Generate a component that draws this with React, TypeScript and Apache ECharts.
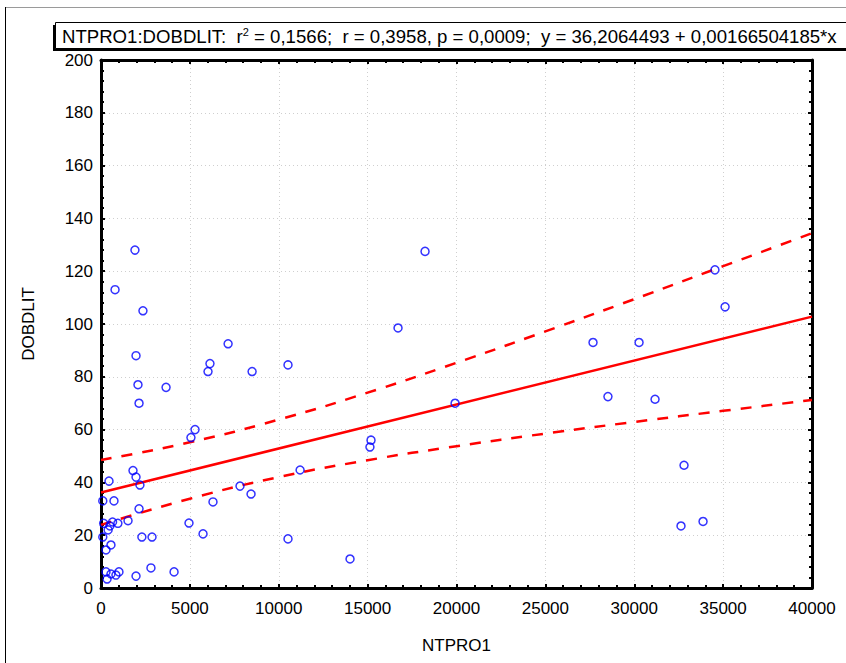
import React, { useEffect, useRef } from "react";
import * as echarts from "echarts";

// Scatter points
const ntpro1 = [
  1910, 790, 2360, 1970, 2080, 2140, 3660, 7150, 6130, 6020, 8500, 10520, 16710, 18230,
  5290, 5060, 1800, 1970, 2190, 450, 100, 730, 2140, 1520, 150, 500, 650, 950, 400, 100,
  560, 280, 2300, 2870, 4950, 5740, 6300, 7820, 8440, 11200, 10520, 14010, 15130, 15190,
  19920, 27680, 30270, 28520, 31170, 32800, 32630, 33870, 34540, 35110, 280, 560, 340,
  840, 1010, 1970, 2810, 4110,
];
const dobdlit = [
  128, 113, 105, 88, 77, 70, 76, 92.5, 85, 82, 82, 84.5, 98.5, 127.5,
  60, 57, 44.5, 42, 39, 40.5, 33, 33, 30, 25.5, 24.5, 23.5, 25, 24.5, 22, 19.3,
  16.3, 14.4, 19.3, 19.3, 24.6, 20.5, 32.6, 38.6, 35.6, 44.7, 18.6, 11, 53.4, 56,
  70, 93, 93, 72.5, 71.5, 46.5, 23.5, 25.2, 120.5, 106.5, 6.1, 5.3, 3.4,
  4.9, 6.1, 4.5, 7.6, 6.1,
];

// Regression line endpoints: y = 36.2064493 + 0.00166504185*x
const fitX = [0, 40000];
const fitY = [36.2, 102.8];

// Confidence band values read at x ticks
const bandX = [0, 5000, 10000, 15000, 20000, 25000, 30000, 35000, 40000];
const bandUpper = [48.5, 55.2, 63.8, 74.0, 85.3, 97.2, 109.4, 121.9, 134.4];
const bandLower = [23.9, 33.8, 42.0, 48.4, 53.7, 58.5, 62.9, 67.1, 71.2];

const xTitle = "NTPRO1";
const yTitle = "DOBDLIT";
const headerA = "NTPRO1:DOBDLIT:  r";
const headerSup = "2";
const headerB = " = 0,1566;  r = 0,3958, p = 0,0009;  y = 36,2064493 + 0,00166504185*x";

const FONT = "'Liberation Sans', Arial, sans-serif";

export default function App() {
  const ref = useRef<HTMLDivElement>(null);
  useEffect(() => {
    if (!ref.current) return;
    const chart = echarts.init(ref.current, undefined, { renderer: "svg" });
    const pts = ntpro1.map((x, i) => [x, dobdlit[i]]);
    const fit = fitX.map((x, i) => [x, fitY[i]]);
    const up = bandX.map((x, i) => [x, bandUpper[i]]);
    const lo = bandX.map((x, i) => [x, bandLower[i]]);
    const axisLabel = { color: "#000", fontFamily: FONT, fontSize: 17 };
    const tick = { show: true, inside: true, length: 4, lineStyle: { color: "#000", width: 2 } };
    const minor = { show: true, splitNumber: 5, length: 3, lineStyle: { color: "#000", width: 2 } };
    const line = { show: true, onZero: false, lineStyle: { color: "#000", width: 3 } };
    chart.setOption({
      animation: false,
      backgroundColor: "#fff",
      grid: { left: 101, right: 34, top: 60, bottom: 75, show: false },
      xAxis: [
        {
          type: "value",
          min: 0,
          max: 40000,
          interval: 5000,
          name: xTitle,
          nameLocation: "middle",
          nameGap: 49,
          nameTextStyle: { color: "#000", fontFamily: FONT, fontSize: 17 },
          axisLine: line,
          axisTick: tick,
          minorTick: minor,
          axisLabel: { ...axisLabel, margin: 12, formatter: (v: number) => String(v) },
          splitLine: { show: true, lineStyle: { color: "#cfcfcf", type: [1, 3], width: 1 } },
        },
        {
          type: "value",
          position: "top",
          min: 0,
          max: 40000,
          interval: 5000,
          axisLine: line,
          axisTick: tick,
          minorTick: minor,
          axisLabel: { show: false },
          splitLine: { show: false },
        },
      ],
      yAxis: [
        {
          type: "value",
          min: 0,
          max: 200,
          interval: 20,
          name: yTitle,
          nameLocation: "middle",
          nameGap: 64,
          nameRotate: 90,
          nameTextStyle: { color: "#000", fontFamily: FONT, fontSize: 17 },
          axisLine: line,
          axisTick: tick,
          minorTick: minor,
          axisLabel: { ...axisLabel, margin: 8 },
          splitLine: { show: true, lineStyle: { color: "#cfcfcf", type: [1, 3], width: 1 } },
        },
        {
          type: "value",
          position: "right",
          min: 0,
          max: 200,
          interval: 20,
          axisLine: line,
          axisTick: tick,
          minorTick: minor,
          axisLabel: { show: false },
          splitLine: { show: false },
        },
      ],
      series: [
        {
          type: "line",
          data: up,
          smooth: true,
          symbol: "none",
          lineStyle: { color: "#ff0000", width: 2.5, type: [11, 10] },
          z: 3,
        },
        {
          type: "line",
          data: lo,
          smooth: true,
          symbol: "none",
          lineStyle: { color: "#ff0000", width: 2.5, type: [11, 10] },
          z: 3,
        },
        {
          type: "line",
          data: fit,
          symbol: "none",
          lineStyle: { color: "#ff0000", width: 2.5 },
          z: 3,
        },
        {
          type: "scatter",
          data: pts,
          symbol: "circle",
          symbolSize: 8,
          itemStyle: { color: "rgba(0,0,0,0)", borderColor: "#0000ff", borderWidth: 1.5 },
          z: 4,
        },
      ],
      graphic: [
        { type: "line", shape: { x1: 5, y1: 7.5, x2: 846, y2: 7.5 }, style: { stroke: "#9a9a9a", lineWidth: 1 } },
        { type: "line", shape: { x1: 5.5, y1: 7, x2: 5.5, y2: 663 }, style: { stroke: "#000", lineWidth: 1 } },
        { type: "rect", shape: { x: 53, y: 25, width: 800, height: 26 }, style: { fill: "#000" } },
        { type: "rect", shape: { x: 55.5, y: 22.5, width: 800, height: 26 }, style: { fill: "#fff", stroke: "#000", lineWidth: 1 } },
        {
          type: "text",
          x: 62,
          y: 36,
          style: {
            text: `{a|${headerA}}{s|${headerSup}}{a|${headerB}}`,
            verticalAlign: "middle",
            rich: {
              a: { fontFamily: FONT, fontSize: 18.6, fill: "#000" },
              s: { fontFamily: FONT, fontSize: 11, fill: "#000", padding: [0, 0, 9, 0] },
            },
          },
        },
      ],
    });
    return () => chart.dispose();
  }, []);
  return (
    <div
      ref={ref}
      style={{ position: "absolute", left: 0, top: 0, width: 846, height: 663 }}
    />
  );
}
